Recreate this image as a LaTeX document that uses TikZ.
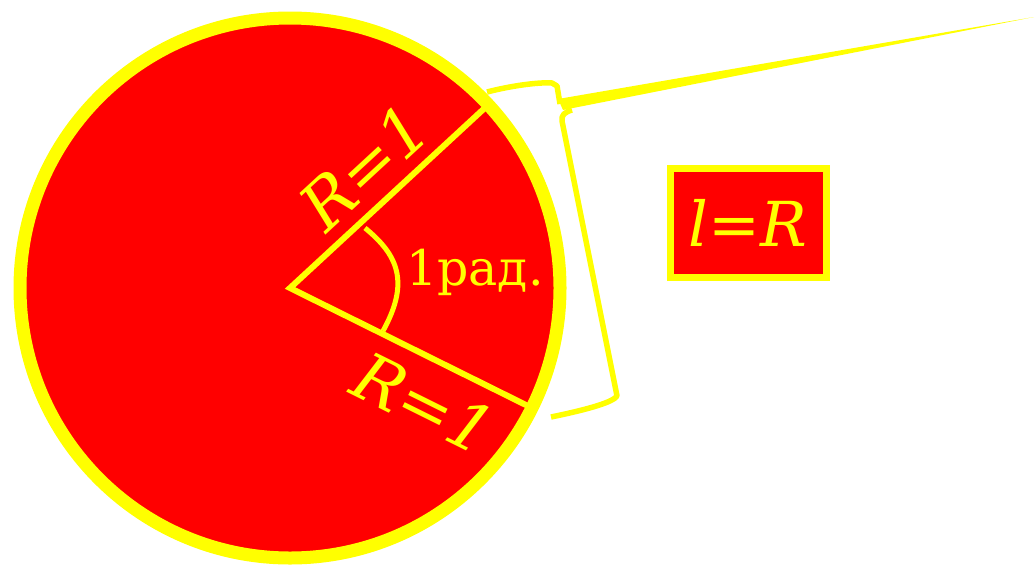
\documentclass[tikz,border=0pt]{standalone}
\usepackage{fontspec}
\setmainfont{DejaVu Serif}
\usetikzlibrary{positioning,calc}

\definecolor{discred}{RGB}{255,0,0}
\definecolor{rimyellow}{RGB}{255,255,0}

\begin{document}
\begin{tikzpicture}[x=1pt, y=-1pt,
    radius line/.style={rimyellow, line width=6pt},
    brace line/.style={rimyellow, line width=5.5pt, line join=round},
    label text/.style={text=rimyellow, inner sep=0pt}]
  \useasboundingbox (0,0) rectangle (1035,565);

  \fill[discred, draw=rimyellow, line width=13pt] (290,288) circle[radius=270];

  \coordinate (centre) at (290,288);
  \coordinate (upperEnd) at (488,105);
  \coordinate (lowerEnd) at (528,406);
  \draw[radius line] (upperEnd) -- (centre) -- (lowerEnd);

  % angle mark
  \draw[rimyellow, line width=5pt] (365,228) .. controls (398,255) and (410,282) .. (383,331);

  \node[label text, font=\fontsize{66}{66}\selectfont\itshape, rotate=42.7] (upperLabel) at (364,167) {R=1};
  \node[label text, font=\fontsize{66}{66}\selectfont\itshape, rotate=-26.4] (lowerLabel) at (424,403) {R=1};
  \node[label text, font=\fontsize{49}{49}\selectfont, anchor=west] (angleLabel) at (406,272) {1рад.};

  % brace
  \draw[brace line] (487,92) .. controls (510,86) and (538,82) .. (552,83) -- (557,86) -- (560,104);
  \draw[brace line] (572,110) .. controls (565,112) and (561,115) .. (562,121) -- (617,396)
    .. controls (613,402) and (590,409) .. (551,417);
  \coordinate (tipFar) at (1034,17);
  \fill[rimyellow] (558,99) -- (tipFar) -- (563,110) -- cycle;

  \node[draw=rimyellow, fill=discred, line width=7pt, minimum width=156pt, minimum height=109pt,
    text=rimyellow, font=\fontsize{62}{62}\selectfont\itshape] (ratio) at (748,222.5) {l=R};
\end{tikzpicture}
\end{document}
